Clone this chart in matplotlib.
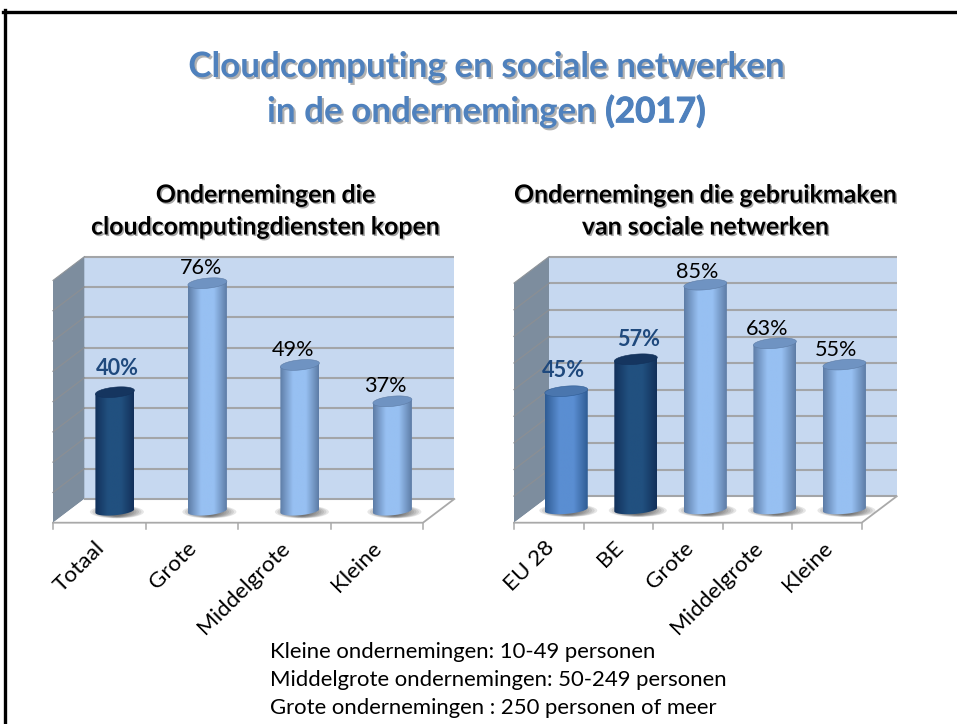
import numpy as np
import matplotlib
matplotlib.use("Agg")
import matplotlib.pyplot as plt
from matplotlib.colors import LinearSegmentedColormap
from matplotlib.patches import PathPatch, Polygon, Ellipse
from matplotlib.path import Path
import matplotlib.patheffects as pe

plt.rcParams['font.family'] = ['Lato', 'DejaVu Sans']

W, H = 957, 724

# ---- data
cloud_categories = ["Totaal", "Grote", "Middelgrote", "Kleine"]
cloud_values = [40, 76, 49, 37]
social_categories = ["EU 28", "BE", "Grote", "Middelgrote", "Kleine"]
social_values = [45, 57, 85, 63, 55]
cloud_axis_max = 80
social_axis_max = 90
title_line1 = "Cloudcomputing en sociale netwerken"
title_line2a = "in de ondernemingen "
title_line2b = "(2017)"
cloud_title = ["Ondernemingen die", "cloudcomputingdiensten kopen"]
social_title = ["Ondernemingen die gebruikmaken", "van sociale netwerken"]
footer = ["Kleine ondernemingen: 10-49 personen",
          "Middelgrote ondernemingen: 50-249 personen",
          "Grote ondernemingen : 250 personen of meer"]

# ---- styles
STYLES = {
    "light": dict(edge="#5d7ca6", mid="#97c0f2", cap="#6f93c2"),
    "dark": dict(edge="#12305a", mid="#21507f", cap="#15355f"),
    "mid": dict(edge="#2f5c94", mid="#5a8ed2", cap="#4a76ae"),
}
cloud_styles = ["dark", "light", "light", "light"]
social_styles = ["mid", "dark", "light", "light", "light"]
cloud_bold = [True, False, False, False]
social_bold = [True, True, False, False, False]
cloud_offsets = [(2, 26), (-6, 17), (-7, 17), (-7, 17)]
social_offsets = [(-3, 23), (3, 22), (-8, 15), (-8, 16), (-8, 17)]

fig = plt.figure(figsize=(W / 100, H / 100), dpi=100, facecolor="white")


def panel(cats, vals, vmax, styles, bolds, offs, front_left, front_right,
          front_y, top_y, depth_x, depth_y, inset_px):
    n = len(cats)
    step = (front_right - front_left) / n
    px_per_unit = (front_y - depth_y - (top_y + depth_y)) / vmax  # bar plane
    base_y = front_y - depth_y
    low, high = -25.0, vmax + 25.0
    x0 = front_left + depth_x
    bottom_px = base_y - low * px_per_unit
    height_px = (high - low) * px_per_unit
    ax = fig.add_axes([x0 / W, 1 - bottom_px / H, step * n / W, height_px / H])
    ax.axis("off")
    xl, xr = -0.5, n - 0.5
    dx = depth_x / step
    dy = depth_y / px_per_unit
    ux = 1 / step
    uy = 1 / px_per_unit

    # back wall
    ax.add_patch(Polygon([(xl + dx, dy), (xr + dx, dy), (xr + dx, vmax + dy),
                          (xl + dx, vmax + dy)], fc="#c6d8f0", ec="none", zorder=1,
                         clip_on=False))
    # side wall
    ax.add_patch(Polygon([(xl - dx, -dy), (xl + dx, dy), (xl + dx, vmax + dy),
                          (xl - dx, vmax - dy)], fc="#7d8d9e", ec="none", zorder=1.5,
                         clip_on=False))
    # floor
    ax.add_patch(Polygon([(xl - dx, -dy), (xr - dx, -dy), (xr + dx, dy), (xl + dx, dy)],
                         fc="white", ec="none", zorder=1.5, clip_on=False))
    # gridlines
    ticks = np.arange(0, vmax + 1, 10)
    for t in ticks:
        ax.plot([xl + dx, xr + dx], [t + dy, t + dy], color="#a3a5a8", lw=1.5, zorder=2,
                solid_capstyle="butt", clip_on=False)
        if 0 < t < vmax:
            ax.plot([xl - dx, xl + dx], [t - dy, t + dy], color="#8b8f94", lw=0.9, zorder=2,
                    clip_on=False)
    # outlines
    grey = "#a9a9a9"
    ax.plot([xl - dx, xr - dx, xr + dx], [-dy, -dy, dy], color=grey, lw=1.3, zorder=2,
            clip_on=False)
    ax.plot([xl - dx, xl + dx], [vmax - dy, vmax + dy], color="#8f9499", lw=0.8, zorder=2,
            clip_on=False)
    for i in range(n + 1):
        xt = xl - dx + i
        ax.plot([xt, xt], [-dy, -dy - 6 * uy], color=grey, lw=1.1, zorder=2, clip_on=False)

    # cylinders
    a = 19.5 * ux
    if n == 5:
        a = 21.5 * ux
    b = 4.4 * uy
    tilt = 1.8 * uy
    t_low = np.linspace(np.pi, 2 * np.pi, 40)
    t_up = np.linspace(0, np.pi, 40)
    t_all = np.linspace(0, 2 * np.pi, 80)
    for i, (v, sname) in enumerate(zip(vals, styles)):
        st = STYLES[sname]
        top = v - inset_px * uy
        # shadow
        for k in range(9):
            f = 1 - k / 11
            ax.add_patch(Ellipse((i + 2 * ux, -1 * uy), 2 * (a + 7.5 * ux) * f,
                                 2 * 6.5 * uy * (0.55 + 0.45 * f), fc="#404040", ec="none",
                                 alpha=0.13, zorder=3))
        cm = LinearSegmentedColormap.from_list("c", [
            st["edge"], st["mid"], st["mid"], st["edge"]])
        grad = np.linspace(0, 1, 180)[None, :]
        bx = i + a * np.cos(t_low)
        by = b * np.sin(t_low) + tilt * np.cos(t_low)
        tx = i + a * np.cos(t_up)
        ty = top + tilt * np.cos(t_up)
        verts = list(zip(bx, by)) + list(zip(tx, ty))
        patch = PathPatch(Path(verts + [verts[0]]), fc="none", ec="none", zorder=4)
        ax.add_patch(patch)
        im = ax.imshow(grad, cmap=cm, aspect="auto", extent=(i - a, i + a, -10, v + 10),
                       zorder=4, interpolation="bilinear")
        im.set_clip_path(patch)
        # top cap
        capx = i + a * np.cos(t_all)
        capy = top + b * 1.15 * np.sin(t_all) + tilt * np.cos(t_all)
        ax.add_patch(Polygon(np.column_stack([capx, capy]), fc=st["cap"],
                             ec=st["edge"], lw=0.4, zorder=5))
        # label
        bold = bolds[i]
        ax.annotate(f"{v}%", (i, top), xytext=(offs[i][0] * 0.72, (offs[i][1] - 2) * 0.72),
                    textcoords="offset points", ha="center", va="center",
                    fontsize=15.6, fontweight="bold" if bold else "normal",
                    color="#1f497d" if bold else "black", zorder=6,
                    annotation_clip=False)
        # category label
        ax.annotate(cats[i], (i - dx, -dy), xytext=(2 * 0.72, -22 * 0.72),
                    textcoords="offset points", ha="right", va="center",
                    rotation=45, rotation_mode="anchor", fontsize=16.2,
                    color="black", zorder=6, annotation_clip=False)
    ax.set_xlim(xl, xr)
    ax.set_ylim(low, high)
    return ax


panel(cloud_categories, cloud_values, cloud_axis_max, cloud_styles, cloud_bold,
      cloud_offsets, 53, 423, 522.7, 256.7, 15.65, 11.85, 2.5)
panel(social_categories, social_values, social_axis_max, social_styles, social_bold,
      social_offsets, 514, 861.7, 522.7, 256.7, 17.5, 13.2, 1.5)


def ftext(x, y, s, **kw):
    return fig.text(x / W, 1 - y / H, s, **kw)


title_fx = [pe.SimplePatchShadow(offset=(1.5, -1.5), shadow_rgbFace="#555555", alpha=0.45),
            pe.Normal()]
paren_fx = [pe.Stroke(linewidth=0.7, foreground="#4f81bd"), pe.Normal()]
tcol = "#4f81bd"
ftext(486.5, 67, title_line1, ha="center", va="center", fontsize=25.2, fontweight="bold",
      color=tcol, path_effects=title_fx)
ftext(267, 112, title_line2a, ha="left", va="center", fontsize=25.2, fontweight="bold",
      color=tcol, path_effects=title_fx)
ftext(706, 112, title_line2b, ha="right", va="center", fontsize=25.2, fontweight="bold",
      color=tcol, path_effects=paren_fx)

sub_fx = [pe.SimplePatchShadow(offset=(1.1, -1.1), shadow_rgbFace="#555555", alpha=0.5),
          pe.Normal()]
for cx, lines in ((265.5, cloud_title), (705.5, social_title)):
    for yy, s in zip((195, 227), lines):
        ftext(cx, yy, s, ha="center", va="center", fontsize=17.9, fontweight="bold",
              color="black", path_effects=sub_fx)

for yy, s in zip((652, 680, 708), footer):
    ftext(270, yy, s, ha="left", va="center", fontsize=15.9, color="black")

# slide frame (top and left edges only)
fig.add_artist(plt.Line2D([4.5 / W, 4.5 / W], [0, 1 - 10 / H], color="black", lw=2.4))
fig.add_artist(plt.Line2D([3 / W, 1], [1 - 11.5 / H, 1 - 11.5 / H], color="black", lw=2.4))

fig.savefig("out.png", dpi=100, facecolor="white")
